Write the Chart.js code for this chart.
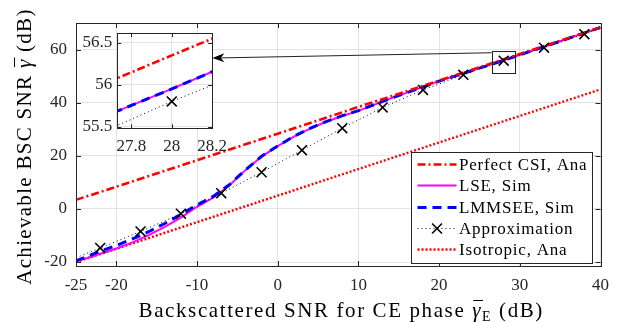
<!DOCTYPE html>
<html>
<head>
<meta charset="utf-8">
<script src="https://cdn.jsdelivr.net/npm/chart.js@4.4.0/dist/chart.umd.min.js"></script>
<style>
    html, body { margin: 0; padding: 0; background: #fff; }
    #wrap { position: relative; width: 618px; height: 322px; }
    #mainChart { position: absolute; left: 0; top: 0; }
    #insetChart { position: absolute; left: 60px; top: 18px; }
</style>
</head>
<body>
<div id="wrap">
    <canvas id="mainChart" width="618" height="322"></canvas>
    <canvas id="insetChart" width="175" height="145"></canvas>
</div>
<script>
// backscattered SNR for CE phase (dB)
const snrDb = [-25, -22, -20, -18, -16, -14, -12, -10, -8, -6, -4, -2, 0, 2, 4, 6, 8, 10, 14, 20, 28, 34, 40];
const lseSim = [-19.8, -16.9, -14.9, -12.6, -9.9, -6.8, -3.3, 0.8, 4.2, 8.8, 14.6, 19.7, 23.6, 27.2, 30.2, 32.8, 35.0, 36.9, 41.6, 48.1, 55.95, 62.1, 68.35];
const lmmseeSim = [-19.6, -15.9, -13.8, -11.3, -8.6, -5.5, -2.1, 1.5, 4.7, 9.1, 14.7, 19.8, 23.7, 27.3, 30.3, 32.9, 35.1, 37.0, 41.6, 48.1, 55.95, 62.1, 68.35];

const perfectX = [-25, -10, 0, 10, 20, 28, 40];
const perfectCsi = [3.4, 18.3, 28.3, 38.4, 48.3, 56.35, 68.35];

const approxX = [-25, -22, -17, -12, -7, -2, 3, 8, 13, 18, 23, 28, 33, 38, 40];
const approxY = [-18.4, -14.7, -8.5, -1.8, 5.9, 13.8, 22.1, 30.4, 38.2, 44.8, 50.5, 55.8, 60.7, 65.8, 68.0];

const isoX = [-25, -10, 0, 10, 20, 30, 40];
const isoY = [-20, -5, 5, 15, 25, 35, 45];

const xTicks = [-25, -20, -10, 0, 10, 20, 30, 40];
const yTicks = [-20, 0, 20, 40, 60];
const insetXTicks = [27.8, 28, 28.2];
const insetYTicks = [55.5, 56, 56.5];

// zoom box + arrow (data units of the main axes)
const zoomBox = { x0: 26.5, x1: 29.4, y0: 51.5, y1: 59.6 };
const arrowFrom = { x: 26.5, y: 58.8 };
const arrowTo = { x: -8.1, y: 56.8 };

const FONT = "'Liberation Serif', 'Times New Roman', serif";
const INK = "#262626";
Chart.defaults.font.family = FONT;

const series = [
    { label: "Perfect CSI, Ana", xs: perfectX, ys: perfectCsi, color: "#ff0000", width: 2.6, dash: [8, 3, 2, 3], order: 1 },
    { label: "LSE, Sim", xs: snrDb, ys: lseSim, color: "#ff00ff", width: 2, dash: [], order: 3 },
    { label: "LMMSEE, Sim", xs: snrDb, ys: lmmseeSim, color: "#0000ff", width: 3, dash: [9, 6], order: 2 },
    { label: "Approximation", xs: approxX, ys: approxY, color: "#000000", width: 1, dash: [1, 3], order: 0, marker: true },
    { label: "Isotropic, Ana", xs: isoX, ys: isoY, color: "#ff0000", width: 2.4, dash: [2, 2], order: 4 },
];

function makeDatasets() {
    return series.map((s) => ({
        label: s.label,
        data: s.xs.map((x, i) => ({ x: x, y: s.ys[i] })),
        borderColor: s.color,
        backgroundColor: s.color,
        borderWidth: s.width,
        borderDash: s.dash,
        order: s.order,
        fill: false,
        tension: 0,
        pointStyle: "crossRot",
        pointRadius: s.marker ? s.xs.map((x, i) => (i === 0 || i === s.xs.length - 1 ? 0 : 7)) : 0,
        pointBorderColor: "#000",
        pointBorderWidth: 1.6,
        pointHoverRadius: 0,
    }));
}

function drawCross(ctx, cx, cy, r) {
    const o = r * Math.SQRT1_2;
    ctx.beginPath();
    ctx.moveTo(cx - o, cy - o); ctx.lineTo(cx + o, cy + o);
    ctx.moveTo(cx - o, cy + o); ctx.lineTo(cx + o, cy - o);
    ctx.stroke();
}

// white background + box + inward ticks like matlab
function framePlugin(tickLen) {
    return {
        id: "frame",
        beforeDraw(chart) {
            const { ctx, chartArea: a } = chart;
            ctx.save();
            ctx.fillStyle = "#fff";
            ctx.fillRect(a.left, a.top, a.right - a.left, a.bottom - a.top);
            ctx.restore();
        },
        afterDatasetsDraw(chart) {
            const { ctx, chartArea: a, scales } = chart;
            const x = scales.x, y = scales.y;
            ctx.save();
            ctx.strokeStyle = INK;
            ctx.lineWidth = 1;
            ctx.setLineDash([]);
            ctx.beginPath();
            x.ticks.forEach((t) => {
                const p = Math.round(x.getPixelForValue(t.value)) + 0.5;
                ctx.moveTo(p, a.bottom); ctx.lineTo(p, a.bottom - tickLen);
                ctx.moveTo(p, a.top); ctx.lineTo(p, a.top + tickLen);
            });
            y.ticks.forEach((t) => {
                const p = Math.round(y.getPixelForValue(t.value)) + 0.5;
                ctx.moveTo(a.left, p); ctx.lineTo(a.left + tickLen, p);
                ctx.moveTo(a.right, p); ctx.lineTo(a.right - tickLen, p);
            });
            ctx.stroke();
            ctx.strokeRect(Math.round(a.left) + 0.5, Math.round(a.top) + 0.5, Math.round(a.right - a.left), Math.round(a.bottom - a.top));
            ctx.restore();
        },
    };
}

function drawParts(ctx, parts, x0, y0) {
    let x = x0;
    parts.forEach((p) => {
        ctx.font = p.font;
        const w = ctx.measureText(p.t).width;
        ctx.fillText(p.t, x, y0 + (p.dy || 0));
        if (p.bar) {
            ctx.save();
            ctx.lineWidth = 1;
            ctx.beginPath();
            ctx.moveTo(x + 1, y0 - 16.5);
            ctx.lineTo(x + w + 1, y0 - 16.5);
            ctx.stroke();
            ctx.restore();
        }
        x += w;
    });
}

function partsWidth(ctx, parts) {
    let w = 0;
    parts.forEach((p) => {
        ctx.font = p.font;
        w += ctx.measureText(p.t).width;
    });
    return w;
}

const mainExtras = {
    id: "mainExtras",
    afterDraw(chart) {
        const { ctx, chartArea: a, scales } = chart;
        const x = scales.x, y = scales.y;
        ctx.save();

        // zoom box and arrow
        ctx.strokeStyle = "#222";
        ctx.lineWidth = 1;
        ctx.setLineDash([]);
        const bx0 = x.getPixelForValue(zoomBox.x0), bx1 = x.getPixelForValue(zoomBox.x1);
        const by0 = y.getPixelForValue(zoomBox.y1), by1 = y.getPixelForValue(zoomBox.y0);
        ctx.strokeRect(Math.round(bx0) + 0.5, Math.round(by0) + 0.5, Math.round(bx1 - bx0), Math.round(by1 - by0));
        const sx = x.getPixelForValue(arrowFrom.x), sy = y.getPixelForValue(arrowFrom.y);
        const ex = x.getPixelForValue(arrowTo.x), ey = y.getPixelForValue(arrowTo.y);
        const len = Math.hypot(ex - sx, ey - sy);
        const ux = (ex - sx) / len, uy = (ey - sy) / len;
        const nx = -uy, ny = ux;
        const L = 12, W = 4.5;
        ctx.beginPath();
        ctx.moveTo(sx, sy);
        ctx.lineTo(ex - ux * L * 0.7, ey - uy * L * 0.7);
        ctx.stroke();
        ctx.fillStyle = "#000";
        ctx.beginPath();
        ctx.moveTo(ex, ey);
        ctx.lineTo(ex - ux * L + nx * W, ey - uy * L + ny * W);
        ctx.lineTo(ex - ux * L * 0.7, ey - uy * L * 0.7);
        ctx.lineTo(ex - ux * L - nx * W, ey - uy * L - ny * W);
        ctx.closePath();
        ctx.fill();

        // legend
        const boxW = 181, boxH = 111;
        const lx = a.right - 9 - boxW, ly = a.bottom - 3 - boxH;
        ctx.fillStyle = "#fff";
        ctx.fillRect(lx, ly, boxW, boxH);
        ctx.strokeStyle = INK;
        ctx.strokeRect(Math.round(lx) + 0.5, Math.round(ly) + 0.5, boxW, boxH);
        ctx.textBaseline = "middle";
        ctx.textAlign = "left";
        ctx.letterSpacing = "0.8px";
        series.forEach((s, i) => {
            const cy = Math.round(ly + 12 + i * 21.3) + 0.5;
            const x0 = lx + 7, x1 = lx + 46;
            ctx.strokeStyle = s.color;
            ctx.lineWidth = s.width;
            ctx.setLineDash(s.dash);
            ctx.beginPath();
            ctx.moveTo(x0, cy);
            ctx.lineTo(x1, cy);
            ctx.stroke();
            ctx.setLineDash([]);
            if (s.marker) {
                ctx.strokeStyle = "#000";
                ctx.lineWidth = 1.6;
                drawCross(ctx, (x0 + x1) / 2, cy, 7);
            }
            ctx.fillStyle = "#000";
            ctx.font = "17px " + FONT;
            ctx.fillText(s.label, lx + 48.5, cy + 1);
        });

        // axis titles
        ctx.fillStyle = "#000";
        ctx.strokeStyle = "#000";
        ctx.textBaseline = "alphabetic";
        const big = "21px " + FONT, ital = "italic 21px " + FONT, small = "14px " + FONT;
        ctx.letterSpacing = "1.6px";
        const xParts = [
            { t: "Backscattered SNR for CE phase ", font: big },
            { t: "γ", font: ital, bar: true },
            { t: "E", font: small, dy: 4 },
            { t: " (dB)", font: big },
        ];
        const xw = partsWidth(ctx, xParts);
        drawParts(ctx, xParts, (a.left + a.right) / 2 + 3 - xw / 2, 317);

        ctx.letterSpacing = "1.3px";
        const yParts = [
            { t: "Achievable BSC SNR ", font: big },
            { t: "γ", font: ital, bar: true },
            { t: " (dB)", font: big },
        ];
        const yw = partsWidth(ctx, yParts);
        ctx.translate(31, (a.top + a.bottom) / 2 + 2);
        ctx.rotate(-Math.PI / 2);
        drawParts(ctx, yParts, -yw / 2, 0);
        ctx.restore();
    },
};

const tickFont = { family: FONT, size: 17 };

function axis(min, max, ticks, fit, pad) {
    return {
        type: "linear",
        min: min,
        max: max,
        afterBuildTicks: (s) => { s.ticks = ticks.map((v) => ({ value: v })); },
        afterFit: fit,
        grid: { color: "#e3e3e3", lineWidth: 1, drawTicks: false },
        border: { display: false },
        ticks: { font: tickFont, color: INK, padding: pad, maxRotation: 0, autoSkip: false, callback: (v) => String(v) },
    };
}

new Chart(document.getElementById("mainChart"), {
    type: "line",
    data: { datasets: makeDatasets() },
    options: {
        responsive: false,
        animation: false,
        events: [],
        layout: { padding: { top: 23, right: 12, left: 0, bottom: 0 } },
        plugins: { legend: { display: false }, tooltip: { enabled: false } },
        scales: {
            x: axis(-25, 40, xTicks, (s) => { s.height = 56; }, 9),
            y: axis(-21.5, 70, yTicks, (s) => { s.width = 76; }, 9),
        },
    },
    plugins: [framePlugin(5), mainExtras],
});

new Chart(document.getElementById("insetChart"), {
    type: "line",
    data: { datasets: makeDatasets() },
    options: {
        responsive: false,
        animation: false,
        events: [],
        layout: { padding: { top: 12, right: 20.7, left: 0, bottom: 0 } },
        plugins: { legend: { display: false }, tooltip: { enabled: false } },
        scales: {
            x: axis(27.73, 28.2, insetXTicks, (s) => { s.height = 34.7; }, 8),
            y: axis(55.48, 56.615, insetYTicks, (s) => { s.width = 57.3; }, 5),
        },
    },
    plugins: [framePlugin(4)],
});
</script>
</body>
</html>
